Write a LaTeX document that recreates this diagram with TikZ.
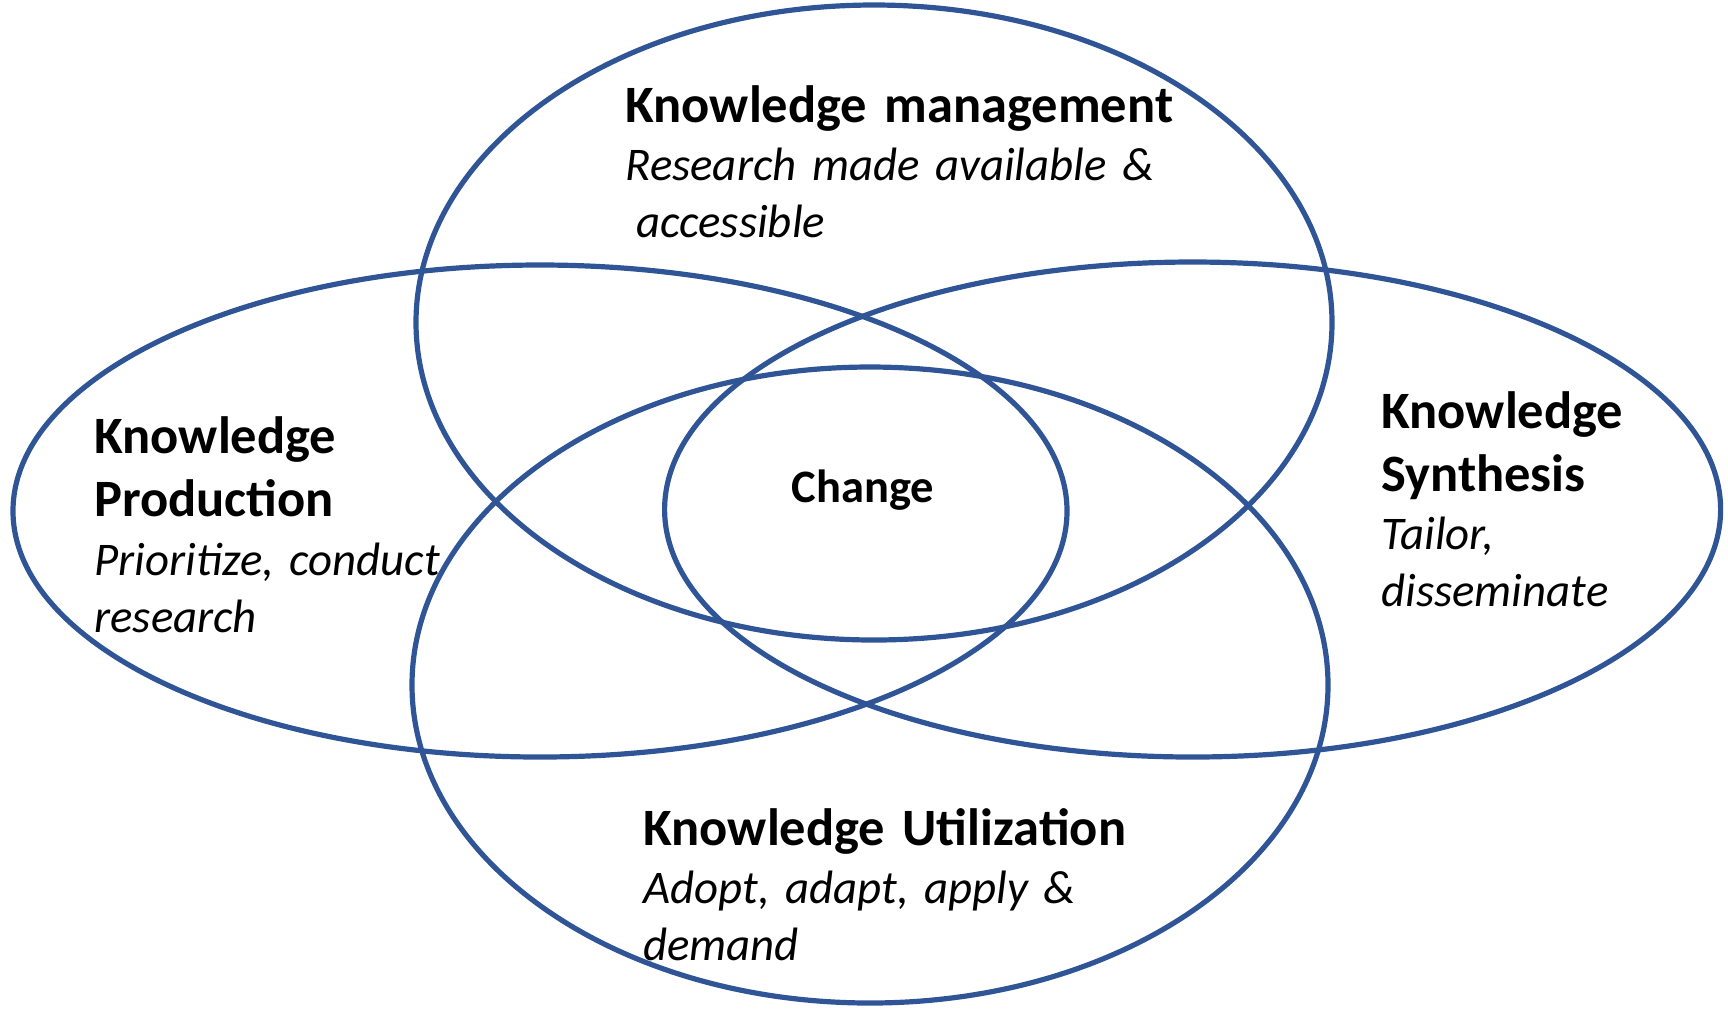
\documentclass[tikz,border=0pt]{standalone}
\usepackage{fontspec}
\setmainfont{Carlito}
\usetikzlibrary{positioning}
\definecolor{ringblue}{HTML}{2F5597}

\begin{document}
\begin{tikzpicture}[%
		x=0.5pt, y=-0.5pt,
		ring/.style={
			draw=ringblue,
			line width=2.6pt
		},
		heading/.style={
			anchor=base west,
			text width=300pt,
			align=left,
			inner sep=0pt,
			font=\fontsize{26.25}{31.5}\selectfont\bfseries
		},
		subline/.style={
			anchor=base west,
			text width=300pt,
			align=left,
			inner sep=0pt,
			font=\fontsize{23.4}{28.5}\selectfont\itshape
		},
		centre/.style={
			anchor=base,
			inner sep=0pt,
			font=\fontsize{23.25}{28}\selectfont\bfseries
		}]

		\useasboundingbox (0,0) rectangle (1728,1009);

		% ELLIPSES

		\draw[ring] (874,322.5) ellipse [x radius=229pt, y radius=158.75pt];
		\draw[ring] (540,511) ellipse [x radius=263.5pt, y radius=123pt];
		\draw[ring] (1192.6,509.5) ellipse [x radius=264pt, y radius=123.75pt];
		\draw[ring] (870,685) ellipse [x radius=229pt, y radius=159pt];

		% LABELS

		\node (head-M) [heading] at (625,122) {Knowledge management};
		\node (sub-M) [subline] at (625,180) {Research made available \&\\ \hspace*{.23em}accessible};

		\node (head-P) [heading] at (94,453) {Knowledge\\ Production};
		\node (sub-P) [subline] at (94,575) {Prioritize, conduct\\ research};

		\node (head-S) [heading] at (1381,428) {Knowledge\\ Synthesis};
		\node (sub-S) [subline] at (1381,549) {Tailor,\\ disseminate};

		\node (head-U) [heading] at (643,845) {Knowledge Utilization};
		\node (sub-U) [subline] at (643,903) {Adopt, adapt, apply \&\\ demand};

		\node (change) [centre] at (863,502) {Change};
\end{tikzpicture}
\end{document}
